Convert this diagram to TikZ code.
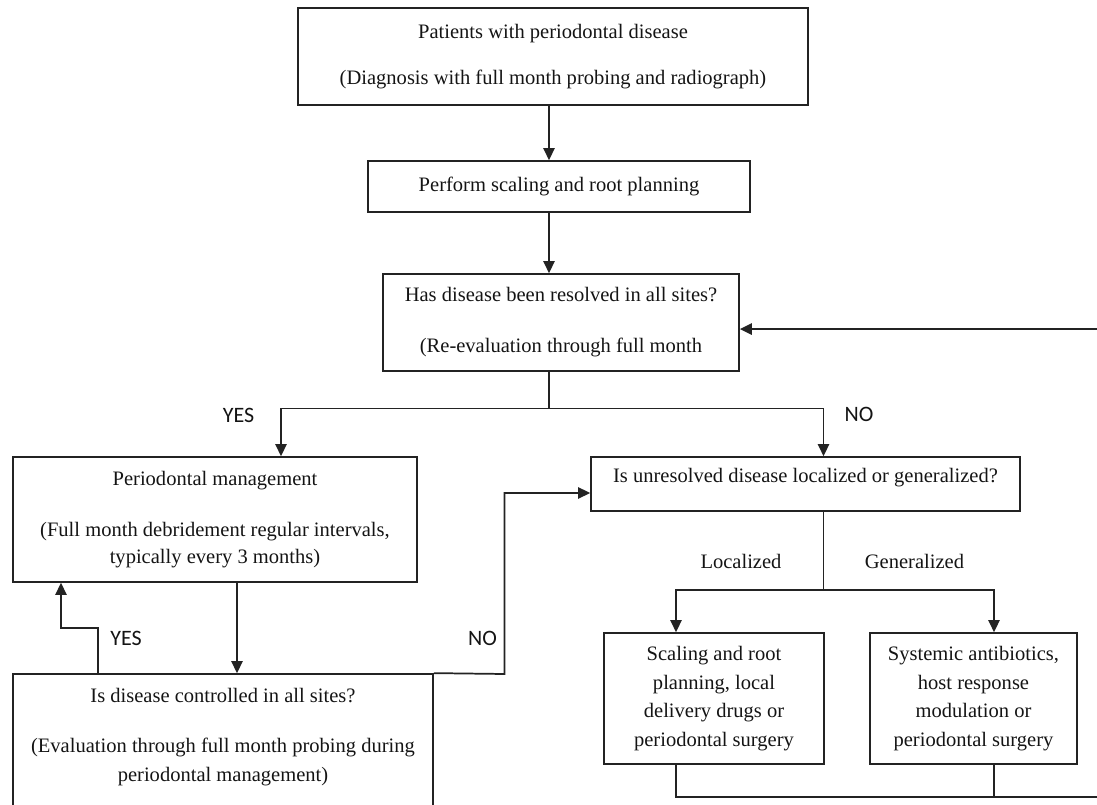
\documentclass[tikz,border=0pt]{standalone}
\usepackage{fontspec}
\setmainfont{Liberation Serif}
\newfontfamily\labfont{Carlito}
\usetikzlibrary{arrows.meta}
\definecolor{ln}{RGB}{35,35,35}
\definecolor{tx}{RGB}{20,20,20}
\tikzset{
  box/.style={draw=ln, line width=1.3pt, inner sep=0pt, align=center, text=tx,
    font=\fontsize{15.4pt}{20.25pt}\selectfont},
  txt/.style={inner sep=0pt, align=center, text=tx,
    font=\fontsize{15.4pt}{20.25pt}\selectfont},
  lab/.style={inner sep=0pt, text=tx, font=\labfont\fontsize{16.5pt}{19pt}\selectfont},
  conn/.style={draw=ln, line width=1.3pt},
  arr/.style={conn, -{Triangle[length=9pt,width=8.5pt]}},
}
\begin{document}
\begin{tikzpicture}[x=0.75pt,y=-0.75pt]
\useasboundingbox (0,0) rectangle (1097,805);
\clip (0,0) rectangle (1097,805);

% boxes
\node[box, minimum width=382.5pt, minimum height=72.75pt] (b1) at (553,56.5)
  {Patients with periodontal disease\\[14.25pt](Diagnosis with full month probing and radiograph)};
\node[box, minimum width=286.5pt, minimum height=38.25pt] (b2) at (559,186.5)
  {Perform scaling and root planning};
\node[box, minimum width=267pt, minimum height=72.75pt] (b3) at (561,322.5)
  {Has disease been resolved in all sites?\\[18pt](Re-evaluation through full month};
\node[box, minimum width=303pt, minimum height=93.75pt] (b4) at (215,519.5)
  {Periodontal management\\[18pt](Full month debridement regular intervals,\\typically every 3 months)};
\node[box, minimum width=321.75pt, minimum height=40.5pt] (b5) at (805.5,484)
  {\raisebox{4.5pt}[\height][\depth]{Is unresolved disease localized or generalized?}};
\node[box, minimum width=165pt, minimum height=98.25pt] (b6) at (714,698.5)
  {Scaling and root\\[1.25pt]planning, local\\[1.25pt]delivery drugs or\\[1.25pt]periodontal surgery};
\node[box, minimum width=155.25pt, minimum height=98.25pt] (b7) at (973.5,698.5)
  {Systemic antibiotics,\\[1.25pt]host response\\[1.25pt]modulation or\\[1.25pt]periodontal surgery};
\node[box, minimum width=315pt, minimum height=124.5pt] (b8) at (223,757) {};
\node[txt] (b8t) at (223,737)
  {Is disease controlled in all sites?\\[17.25pt](Evaluation through full month probing during\\[1pt]periodontal management)};

% helper coordinates
\coordinate (sx) at (549,0);
\coordinate (split) at (549,408.5);
\coordinate (yx) at (281,0);
\coordinate (nx) at (823.5,0);
\coordinate (split2) at (823.5,590);
\coordinate (lx) at (676,0);
\coordinate (gx) at (994,0);
\coordinate (rb) at (1103,797);
\coordinate (mx) at (237,0);
\coordinate (y1) at (98,628);
\coordinate (y2) at (61,0);
\coordinate (n1) at (504.5,674);

% connectors
\draw[arr] (sx |- b1.south) -- (sx |- b2.north);
\draw[arr] (sx |- b2.south) -- (sx |- b3.north);
\draw[conn] (sx |- b3.south) -- (split);
\draw[arr] (split) -| (yx |- b4.north);
\draw[arr] (split) -| (nx |- b5.north);
\draw[conn] (nx |- b5.south) -- (split2);
\draw[arr] (split2) -| (lx |- b6.north);
\draw[arr] (split2) -| (gx |- b7.north);
\draw[arr] (lx |- b6.south) |- (rb) |- ([yshift=-4.9pt]b3.east);
\draw[conn] (gx |- b7.south) -- (gx |- rb);
\draw[arr] (mx |- b4.south) -- (mx |- b8.north);
\draw[arr] (b8.north -| y1) -- (y1) -| (y2 |- b4.south);
\draw[arr] (b8.north east) -- (n1) |- ([yshift=-6.75pt]b5.west);

% labels
\node[lab] (lyes1) at (238.5,415) {YES};
\node[lab] (lno1) at (859,414) {NO};
\node[lab] (lyes2) at (126,638) {YES};
\node[lab] (lno2) at (482.5,638) {NO};
\node[txt] (lloc) at (741,561) {Localized};
\node[txt] (lgen) at (914.5,561) {Generalized};
\end{tikzpicture}
\end{document}
